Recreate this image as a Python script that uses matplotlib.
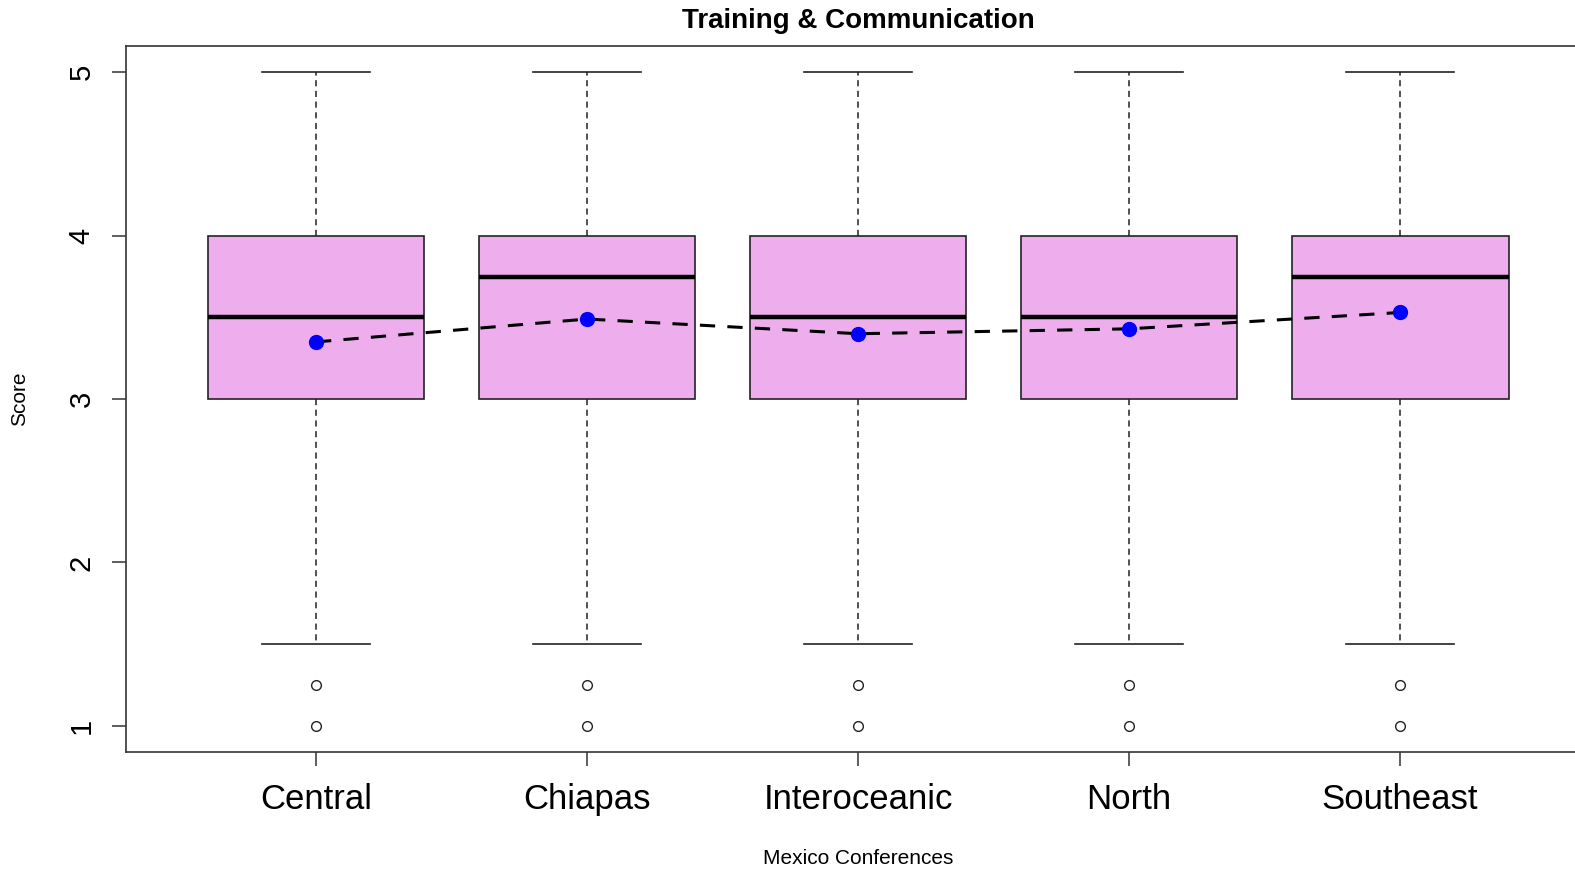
"""
plot.py
Boxplot of Training & Communication scores per Mexico conference, with means.
"""

import matplotlib
matplotlib.use("Agg")
import matplotlib.pyplot as plt

conferences = ["Central", "Chiapas", "Interoceanic", "North", "Southeast"]
q1 = [3.0, 3.0, 3.0, 3.0, 3.0]
q3 = [4.0, 4.0, 4.0, 4.0, 4.0]
medians = [3.5, 3.75, 3.5, 3.5, 3.75]
whisker_low = [1.5, 1.5, 1.5, 1.5, 1.5]
whisker_high = [5.0, 5.0, 5.0, 5.0, 5.0]
outliers = [[1.0, 1.25], [1.0, 1.25], [1.0, 1.25], [1.0, 1.25], [1.0, 1.25]]
means = [3.35, 3.49, 3.40, 3.43, 3.53]

plt.rcParams["font.family"] = ["Liberation Sans", "DejaVu Sans"]

fig = plt.figure(figsize=(15.75, 8.71), dpi=100)
ax = fig.add_axes([0.0802, 0.1366, 0.9292, 0.8104])

stats = []
for i, name in enumerate(conferences):
    stats.append({
        "label": name,
        "q1": q1[i], "q3": q3[i], "med": medians[i],
        "whislo": whisker_low[i], "whishi": whisker_high[i],
        "fliers": outliers[i],
    })

positions = list(range(1, len(conferences) + 1))
ax.bxp(
    stats, positions=positions, widths=0.8, patch_artist=True,
    showfliers=True,
    boxprops=dict(facecolor="#EEAEEE", edgecolor="#222222", linewidth=1.2),
    medianprops=dict(color="black", linewidth=3.2, solid_capstyle="butt"),
    whiskerprops=dict(color="#222222", linewidth=1.1, linestyle=(0, (4, 3))),
    capprops=dict(color="#222222", linewidth=1.2),
    capwidths=0.4,
    flierprops=dict(marker="o", markersize=7, markerfacecolor="none",
                    markeredgecolor="#222222", markeredgewidth=1.0),
)

ax.plot(positions, means, color="black", linestyle=(0, (5, 4)), linewidth=2.2, zorder=4)
ax.plot(positions, means, "o", color="blue", markersize=10, zorder=5)

ax.set_xlim(0.3, 5.7)
ax.set_ylim(0.84, 5.16)
ax.set_yticks([1, 2, 3, 4, 5])
ax.set_xticks(positions)
ax.set_xticklabels(conferences, fontsize=25)
ax.set_yticklabels(["1", "2", "3", "4", "5"], fontsize=21, rotation=90, va="center")
ax.tick_params(axis="both", direction="out", length=10, width=1.1, color="#333333")
ax.tick_params(axis="x", pad=12)
ax.tick_params(axis="y", pad=12)
for sp in ax.spines.values():
    sp.set_color("#333333")
    sp.set_linewidth(1.2)

ax.set_title("Training & Communication", fontsize=20, fontweight="bold", pad=13)
ax.set_ylabel("Score", fontsize=15, labelpad=28)
ax.set_xlabel("Mexico Conferences", fontsize=15, labelpad=24)

fig.savefig("out.png", dpi=100)
plt.close(fig)
